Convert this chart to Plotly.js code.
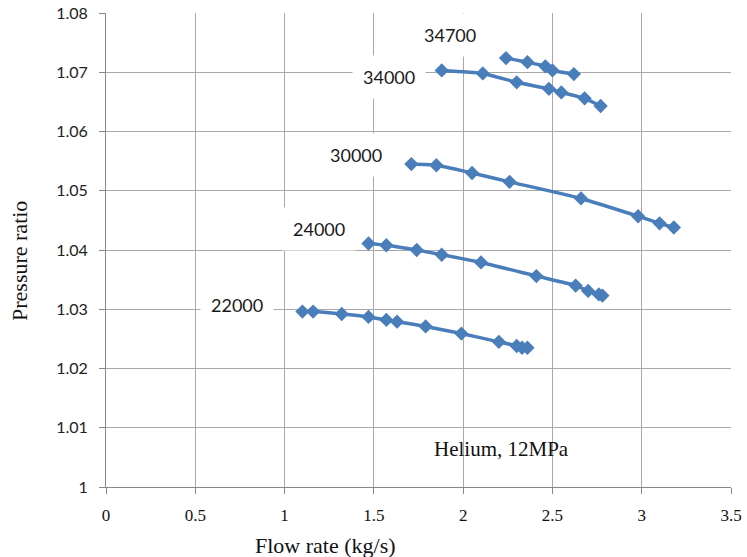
<!DOCTYPE html>
<html>
<head>
<meta charset="utf-8">
<script src="https://cdn.plot.ly/plotly-3.0.1.min.js"></script>
<style>html,body{margin:0;padding:0;background:#fff;}#chart{width:747px;height:557px;}</style>
</head>
<body>
<div id="chart"></div>
<script>
// Flow rate (kg/s) and pressure ratio for each rotational speed
const x22000 = [1.10, 1.16, 1.32, 1.47, 1.57, 1.63, 1.79, 1.99, 2.20, 2.30, 2.33, 2.36];
const y22000 = [1.0296, 1.0296, 1.0292, 1.0287, 1.0282, 1.0279, 1.0271, 1.0259, 1.0245, 1.0238, 1.0235, 1.0235];

const x24000 = [1.47, 1.57, 1.74, 1.88, 2.10, 2.41, 2.63, 2.70, 2.76, 2.78];
const y24000 = [1.0411, 1.0408, 1.0400, 1.0392, 1.0379, 1.0356, 1.0340, 1.0331, 1.0325, 1.0323];

const x30000 = [1.71, 1.85, 2.05, 2.26, 2.66, 2.98, 3.10, 3.18];
const y30000 = [1.0545, 1.0543, 1.0530, 1.0515, 1.0487, 1.0457, 1.0445, 1.0438];

const x34000 = [1.88, 2.11, 2.30, 2.48, 2.55, 2.68, 2.77];
const y34000 = [1.0703, 1.0698, 1.0683, 1.0672, 1.0666, 1.0656, 1.0643];

const x34700 = [2.24, 2.36, 2.46, 2.50, 2.62];
const y34700 = [1.0724, 1.0717, 1.0710, 1.0703, 1.0697];

const seriesNames = ["22000", "24000", "30000", "34000", "34700"];
const seriesX = [x22000, x24000, x30000, x34000, x34700];
const seriesY = [y22000, y24000, y30000, y34000, y34700];

// label anchor positions (data units)
const labelX = [0.733, 1.193, 1.400, 1.585, 1.926];
const labelY = [1.0307, 1.0436, 1.0560, 1.0692, 1.0763];

const noteText = "Helium, 12MPa";
const xTitle = "Flow rate (kg/s)";
const yTitle = "Pressure ratio";

const blue = "#4a7ebb";
const traces = seriesNames.map((n, i) => ({
  type: "scatter",
  mode: "lines+markers",
  name: n,
  x: seriesX[i],
  y: seriesY[i],
  line: {color: blue, width: 3.5, shape: "spline", smoothing: 0.5},
  marker: {symbol: "diamond", size: 11, color: blue},
  hoverinfo: "x+y+name"
}));

const annotations = seriesNames.map((n, i) => ({
  x: labelX[i], y: labelY[i], xref: "x", yref: "y",
  text: n, showarrow: false,
  xanchor: "center", yanchor: "middle",
  bgcolor: "#ffffff", borderpad: 10,
  font: {family: "Lato, 'Open Sans', sans-serif", size: 18, color: "#1a1a1a"}
}));
annotations.push({
  x: 2.212, y: 1.0064, xref: "x", yref: "y",
  text: noteText, showarrow: false, xanchor: "center", yanchor: "middle",
  font: {family: "'Liberation Serif', 'Times New Roman', serif", size: 21, color: "#111"}
});
annotations.push({
  x: 0.3504, y: -0.1224, xref: "paper", yref: "paper",
  text: xTitle, showarrow: false, xanchor: "center", yanchor: "middle",
  font: {family: "'Liberation Serif', 'Times New Roman', serif", size: 22, color: "#111"}
});
annotations.push({
  x: -0.1376, y: 0.4768, xref: "paper", yref: "paper",
  text: yTitle, showarrow: false, textangle: -90, xanchor: "center", yanchor: "middle",
  font: {family: "'Liberation Serif', 'Times New Roman', serif", size: 22, color: "#111"}
});

const layout = {
  width: 747, height: 557,
  margin: {l: 106, r: 16, t: 13, b: 70, pad: 0},
  paper_bgcolor: "#ffffff", plot_bgcolor: "#ffffff",
  showlegend: false,
  xaxis: {
    range: [0, 3.5], dtick: 0.5, tick0: 0,
    showgrid: true, gridcolor: "#a8a8a8", gridwidth: 1,
    zeroline: false, showline: true, linecolor: "#888", linewidth: 1,
    ticks: "outside", ticklen: 6, tickcolor: "#888",
    ticklabelstandoff: 7,
    tickfont: {family: "'Liberation Serif', 'Times New Roman', serif", size: 17, color: "#111"}
  },
  yaxis: {
    range: [1, 1.08], dtick: 0.01, tick0: 1,
    showgrid: true, gridcolor: "#a8a8a8", gridwidth: 1,
    zeroline: false, showline: true, linecolor: "#888", linewidth: 1,
    ticks: "outside", ticklen: 6, tickcolor: "#888",
    ticklabelstandoff: 8,
    tickfont: {family: "Lato, 'Open Sans', sans-serif", size: 16, color: "#222"}
  },
  annotations: annotations
};

Plotly.newPlot("chart", traces, layout, {displayModeBar: false, staticPlot: true});
</script>
</body>
</html>
